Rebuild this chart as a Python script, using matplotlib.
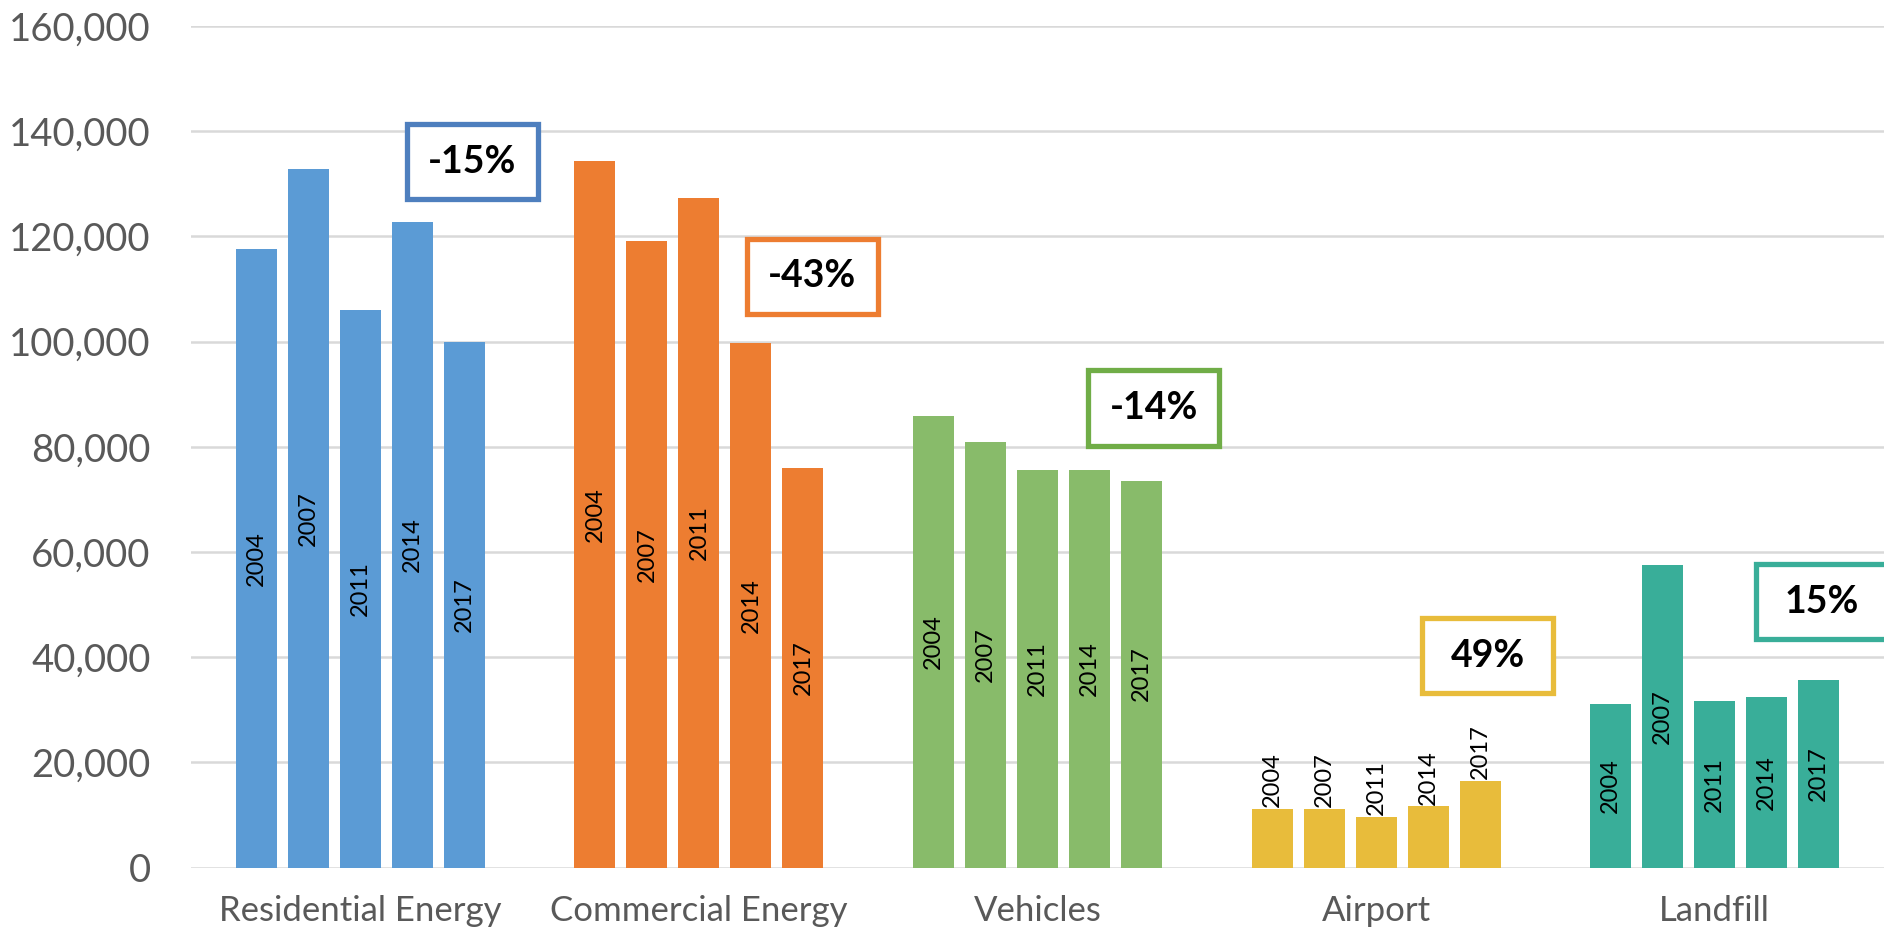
import numpy as np
import matplotlib.pyplot as plt
from matplotlib.patches import Rectangle
from matplotlib.ticker import FuncFormatter

# emissions by sector, five inventory years each
categories = ['Residential Energy', 'Commercial Energy', 'Vehicles', 'Airport', 'Landfill']
years = ['2004', '2007', '2011', '2014', '2017']
residential = [117600, 132800, 106000, 122800, 99900]
commercial = [134300, 119100, 127300, 99700, 76000]
vehicles = [85900, 80900, 75600, 75600, 73600]
airport = [11200, 11200, 9700, 11700, 16500]
landfill = [31100, 57500, 31700, 32400, 35700]
changes = ['-15%', '-43%', '-14%', '49%', '15%']

series = [residential, commercial, vehicles, airport, landfill]
bar_colors = ['#5B9BD5', '#ED7D31', '#88BB6A', '#E8BC3B', '#39AE99']
box_colors = ['#4E7FBE', '#ED7D31', '#70AD47', '#E8BC3B', '#39AE99']
# where the change box sits (x in category units, y in data units)
box_pos = [(0.33, 134200), (1.335, 112400), (2.343, 87400), (3.33, 40300), (4.315, 50600)]
label_outside = [False, False, False, True, False]

plt.rcParams['font.family'] = ['Lato', 'DejaVu Sans']

fig = plt.figure(figsize=(18.84, 9.36), dpi=100)
ax = fig.add_axes([191 / 1884, 68.3 / 936, 1 - 191 / 1884, (867.7 - 26) / 936])

pitch = 0.1536
width = 0.121
offsets = (np.arange(len(years)) - 2) * pitch

for i, vals in enumerate(series):
    xs = i + offsets
    ax.bar(xs, vals, width=width, color=bar_colors[i], zorder=2)
    for x, v, yr in zip(xs, vals, years):
        if label_outside[i]:
            ax.text(x, v + 300, yr, rotation=90, ha='center', va='bottom',
                    fontsize=17, color='black', zorder=3)
        else:
            ax.text(x, v / 2, yr, rotation=90, ha='center', va='center',
                    fontsize=17, color='black', zorder=3)

# percent change boxes
bw, bh = 0.387, 14300
for (cx, cy), txt, c in zip(box_pos, changes, box_colors):
    ax.add_patch(Rectangle((cx - bw / 2, cy - bh / 2), bw, bh, facecolor='white',
                           edgecolor=c, linewidth=3.8, zorder=4, clip_on=False))
    ax.text(cx, cy, txt, ha='center', va='center', fontsize=27, fontweight='bold',
            color='black', zorder=5, clip_on=False)

ax.set_xlim(-0.5, 4.5)
ax.set_ylim(0, 160000)
ax.set_yticks(np.arange(0, 160001, 20000))
ax.yaxis.set_major_formatter(FuncFormatter(lambda v, p: f'{int(v):,}'))
ax.set_xticks(range(len(categories)))
ax.set_xticklabels(categories)
ax.tick_params(axis='both', length=0, colors='#595959')
ax.tick_params(axis='y', pad=29, labelsize=27.5)
ax.tick_params(axis='x', pad=20, labelsize=25)
ax.grid(axis='y', color='#D9D9D9', linewidth=1.8, zorder=0)
ax.set_axisbelow(True)
for s in ax.spines.values():
    s.set_visible(False)

fig.savefig('out.png', dpi=100)
